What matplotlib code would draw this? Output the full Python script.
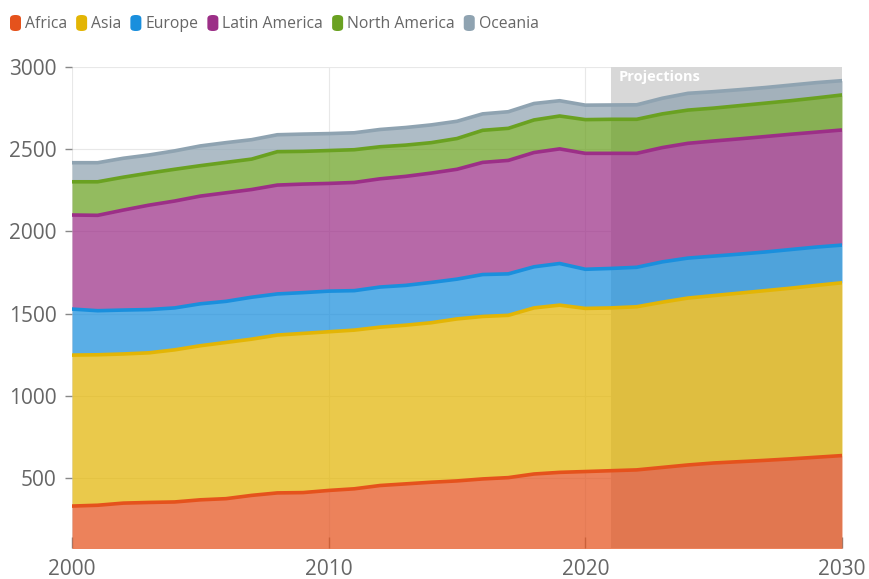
import numpy as np
import matplotlib
matplotlib.use("Agg")
import matplotlib.pyplot as plt
from matplotlib.patches import FancyBboxPatch

plt.rcParams['font.family'] = ['Open Sans', 'DejaVu Sans']

#%% data
years = list(range(2000, 2031))
africa = [330, 335, 348, 352, 355, 368, 375, 395, 410, 412, 425, 435, 455, 465, 475, 483,
          495, 503, 525, 535, 540, 545, 550, 565, 580, 592, 600, 608, 617, 627, 637]
asia = [918, 915, 907, 910, 925, 937, 950, 950, 960, 968, 965, 965, 963, 965, 970, 985,
        988, 987, 1010, 1017, 992, 990, 992, 1005, 1015, 1018, 1025, 1032, 1038, 1045, 1051]
europe = [280, 268, 267, 263, 255, 255, 250, 255, 250, 248, 247, 240, 244, 242, 245, 242,
          255, 252, 250, 253, 238, 240, 240, 245, 243, 240, 237, 235, 235, 233, 229]
latin_america = [572, 580, 608, 635, 650, 655, 660, 655, 662, 660, 655, 658, 658, 663, 665, 668,
                 682, 690, 695, 697, 705, 700, 693, 695, 698, 700, 701, 702, 701, 699, 700]
north_america = [202, 204, 200, 195, 193, 185, 185, 185, 203, 199, 200, 199, 195, 190, 185, 187,
                 195, 195, 198, 200, 205, 207, 207, 205, 202, 200, 202, 203, 204, 208, 213]
oceania = [116, 116, 115, 110, 112, 120, 120, 118, 103, 105, 103, 103, 105, 107, 108, 105,
           100, 101, 100, 93, 88, 87, 88, 95, 102, 100, 97, 95, 95, 93, 87]

labels = ['Africa', 'Asia', 'Europe', 'Latin America', 'North America', 'Oceania']
series = [africa, asia, europe, latin_america, north_america, oceania]
colors = ['#e5521c', '#e3b505', '#1a8fdd', '#9c2f87', '#6aa121', '#8fa3b1']
projection_start = 2021

#%% figure
fig = plt.figure(figsize=(8.69, 5.79), dpi=100)
ax = fig.add_axes([72/869, 31/579, 770/869, 481/579])

x = np.array(years)
base = np.zeros(len(years))
for vals, col in zip(series, colors):
    top = base + np.array(vals)
    ax.fill_between(x, base, top, color=col, alpha=0.72, linewidth=0, zorder=2)
    ax.plot(x, top, color=col, lw=2.6, zorder=3, solid_joinstyle='round')
    base = top

# projection band sits behind the (semi transparent) areas
ax.axvspan(projection_start, years[-1], color='#d8d8d8', lw=0, zorder=1)
ax.text(projection_start + 0.3, 2980, 'Projections', color='white', fontsize=10.5,
        fontweight='bold', va='top', ha='left', zorder=5)

ax.set_xlim(years[0], years[-1])
ax.set_ylim(75, 3000)
ax.set_xticks([2000, 2010, 2020, 2030])
ax.set_yticks([500, 1000, 1500, 2000, 2500, 3000])
ax.grid(True, color='#e8e8e8', lw=0.8, zorder=0.5)
ax.set_axisbelow(True)
for s in ax.spines.values():
    s.set_visible(False)
ax.tick_params(axis='y', colors='#888888', labelcolor='#666666', labelsize=15,
               length=5, width=1, direction='out', pad=6)
ax.tick_params(axis='x', colors='#888888', labelcolor='#666666', labelsize=15,
               length=8, width=1, direction='in', pad=8)

# legend, laid out by hand
fig.canvas.draw()
r = fig.canvas.get_renderer()
xp = 10
for lab, col in zip(labels, colors):
    fig.patches.append(FancyBboxPatch((xp/869, 1 - 31/579), 11/869, 16/579,
                                      boxstyle='round,pad=0,rounding_size=0.006',
                                      transform=fig.transFigure, color=col, lw=0))
    t = fig.text((xp + 15)/869, 1 - 23.5/579, lab, fontsize=11.3, color='#666666',
                 va='center', ha='left')
    w = t.get_window_extent(r).width
    xp += 15 + w + 9

fig.savefig('out.png', dpi=100)
